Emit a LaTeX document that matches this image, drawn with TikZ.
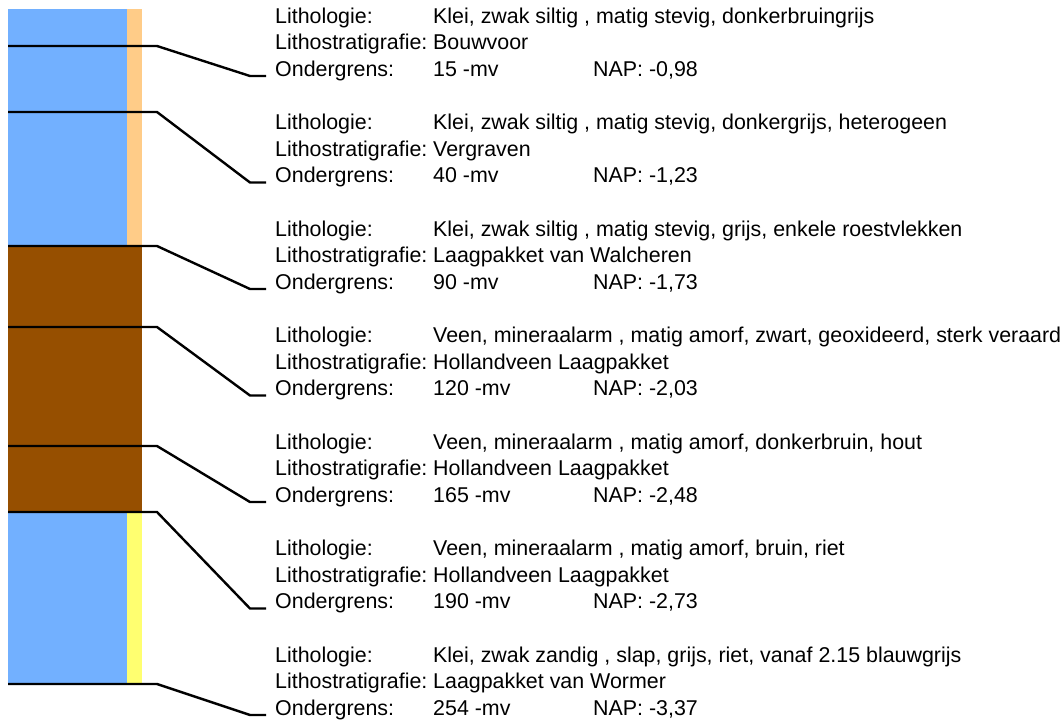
\documentclass[tikz,border=0pt]{standalone}
\usepackage{fontspec}
\setmainfont{Liberation Sans}
\usepackage{tikz}
\usetikzlibrary{positioning}
\definecolor{soilblue}{RGB}{114,176,255}
\definecolor{soilorange}{RGB}{255,204,136}
\definecolor{soilbrown}{RGB}{150,79,0}
\definecolor{soilyellow}{RGB}{255,255,112}

\begin{document}
\begin{tikzpicture}[
  x=1pt, y=-1pt,
  txt/.style={anchor=base west, inner sep=0pt, font=\fontsize{21.4}{25}\selectfont},
  conn/.style={line width=2.4pt, black}
]
  \useasboundingbox (0,0) rectangle (1063,721);

  % boring column
  \fill[soilblue]   (8,9)   rectangle (127,246);
  \fill[soilorange] (127,9) rectangle (142,246);
  \fill[soilbrown]  (8,246) rectangle (142,512);
  \fill[soilblue]   (8,512) rectangle (127,684);
  \fill[soilyellow] (127,512) rectangle (142,684);

  % layer descriptions
  \foreach \i/\bnd/\lith/\strat/\depth/\nap in {
    1/46/{Klei, zwak siltig , matig stevig, donkerbruingrijs}/{Bouwvoor}/15/{-0,98},
    2/112/{Klei, zwak siltig , matig stevig, donkergrijs, heterogeen}/{Vergraven}/40/{-1,23},
    3/246/{Klei, zwak siltig , matig stevig, grijs, enkele roestvlekken}/{Laagpakket van Walcheren}/90/{-1,73},
    4/327/{Veen, mineraalarm , matig amorf, zwart, geoxideerd, sterk veraard}/{Hollandveen Laagpakket}/120/{-2,03},
    5/446/{Veen, mineraalarm , matig amorf, donkerbruin, hout}/{Hollandveen Laagpakket}/165/{-2,48},
    6/512/{Veen, mineraalarm , matig amorf, bruin, riet}/{Hollandveen Laagpakket}/190/{-2,73},
    7/684/{Klei, zwak zandig , slap, grijs, riet, vanaf 2.15 blauwgrijs}/{Laagpakket van Wormer}/254/{-3,37}}{
    \pgfmathsetmacro\yy{23+106.5*(\i-1)}
    \coordinate (bnd\i) at (8,\bnd);
    \node[txt] (lithlab\i)  at (275,\yy)      {Lithologie:};
    \node[txt] (lith\i)     at (433,\yy)      {\lith};
    \node[txt] (stratlab\i) at (275,\yy+26.5) {Lithostratigrafie:};
    \node[txt] (strat\i)    at (433,\yy+26.5) {\strat};
    \node[txt] (ondlab\i)   at (275,\yy+53)   {Ondergrens:};
    \node[txt] (ond\i)      at (433,\yy+53)   {\depth\ -mv};
    \node[txt] (nap\i)      at (593,\yy+53)   {NAP: \nap};
    \draw[conn] (bnd\i) -- ++(149,0)
      -- ([xshift=-25pt]ondlab\i.base west) -- ([xshift=-9pt]ondlab\i.base west);
  }
\end{tikzpicture}
\end{document}
